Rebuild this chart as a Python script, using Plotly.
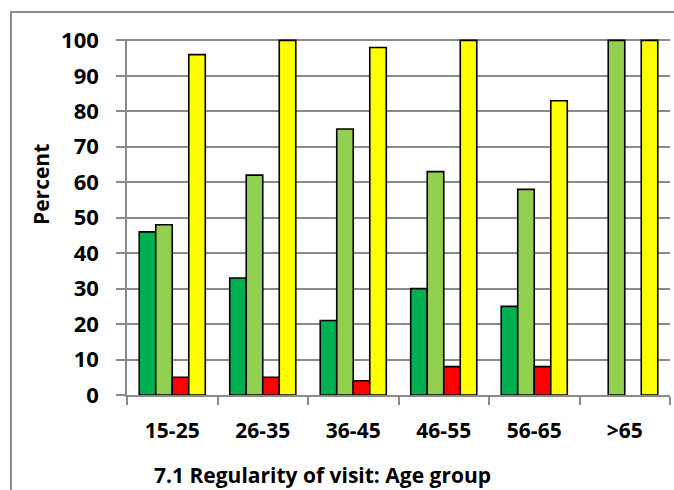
import plotly.graph_objects as go

# Age groups and the four response series (percent)
age_groups = ["15-25", "26-35", "36-45", "46-55", "56-65", ">65"]
series_a = [46, 33, 21, 30, 25, None]
series_b = [48, 62, 75, 63, 58, 100]
series_c = [5, 5, 4, 8, 8, None]
series_d = [96, 100, 98, 100, 83, 100]
y_ticks = [0, 10, 20, 30, 40, 50, 60, 70, 80, 90, 100]

colors = ["#00B050", "#92D050", "#FF0000", "#FFFF00"]
FONT = "Open Sans"
GRID = "#8A8A8A"

fig = go.Figure()
for vals, col in zip([series_a, series_b, series_c, series_d], colors):
    fig.add_trace(go.Bar(
        x=age_groups, y=vals,
        marker=dict(color=col, line=dict(color="black", width=1.6)),
        showlegend=False,
    ))

W, H = 674, 490
L, R, T, B = 127, 4, 39, 95
pw, ph = W - L - R, H - T - B

def px_x(x):
    return (x - L) / pw

def px_y(y):
    return (H - B - y) / ph

fig.update_layout(
    width=W, height=H,
    margin=dict(l=L, r=R, t=T, b=B, pad=0),
    paper_bgcolor="white", plot_bgcolor="white",
    barmode="group", bargap=0.27, bargroupgap=0,
    font=dict(family=FONT, color="black"),
    xaxis=dict(
        tickson="boundaries", ticks="outside", ticklen=8, tickwidth=1.5,
        tickcolor=GRID, showline=True, linecolor=GRID, linewidth=1.5,
        showgrid=False, tickfont=dict(family=FONT, size=21, weight="bold"),
        ticklabelstandoff=16,
    ),
    yaxis=dict(
        range=[0, 100.4], tickvals=y_ticks, ticks="outside", ticklen=9,
        tickwidth=1.5, tickcolor=GRID, showline=True, linecolor=GRID,
        linewidth=1.5, showgrid=True, gridcolor=GRID, gridwidth=1.5,
        zeroline=False, tickfont=dict(family=FONT, size=22, weight="bold"),
        ticklabelstandoff=13,
    ),
    shapes=[dict(
        type="rect", xref="paper", yref="paper",
        x0=px_x(11), x1=px_x(700), y0=px_y(520), y1=px_y(12),
        line=dict(color="#8C8C8C", width=2), fillcolor="rgba(0,0,0,0)",
        layer="below",
    )],
    annotations=[
        dict(text="Percent", xref="paper", yref="paper",
             x=px_x(41), y=px_y(185), textangle=-90, showarrow=False,
             font=dict(family=FONT, size=21, weight="bold"),
             xanchor="center", yanchor="middle"),
        dict(text="7.1 Regularity of visit: Age group", xref="paper", yref="paper",
             x=px_x(322), y=px_y(475), showarrow=False,
             font=dict(family=FONT, size=21, weight="bold"),
             xanchor="center", yanchor="middle"),
    ],
)

fig.write_html("out.html")
